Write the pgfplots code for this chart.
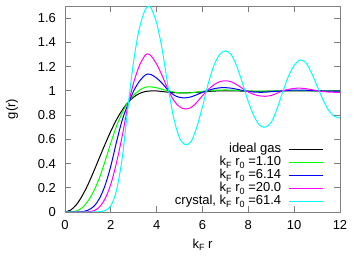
\documentclass[border=0pt]{standalone}
\usepackage{pgfplots}
\pgfplotsset{compat=1.18}
\usepackage{fontspec}
\setmainfont{Liberation Sans}
\newcommand\sub[1]{\raisebox{-0.35ex}{\fontsize{9}{9}\selectfont #1}}
\newcommand\fsz{\fontsize{13}{15}\selectfont}
\definecolor{cgreen}{RGB}{0,255,0}
\definecolor{cblue}{RGB}{0,0,255}
\definecolor{cmag}{RGB}{255,0,255}
\definecolor{ccyan}{RGB}{0,255,255}
\definecolor{frame}{RGB}{128,128,128}
\begin{document}
\begin{tikzpicture}
\begin{axis}[
  scale only axis, width=275pt, height=206pt,
  xmin=0, xmax=12, ymin=0, ymax=1.7,
  xtick={0,2,4,6,8,10,12},
  ytick={0,0.2,0.4,0.6,0.8,1,1.2,1.4,1.6},
  /pgf/number format/assume math mode=true,
  tick label style={font=\fsz},
  xticklabel style={yshift=-5pt},
  yticklabel style={xshift=-5.5pt},
  label style={font=\fsz},
  xlabel={k\sub{F} r},
  ylabel={g(r)},
  xlabel style={at={(axis description cs:0.5,-0.160)}, anchor=center},
  ylabel style={at={(axis description cs:-0.193,0.5)}, anchor=center, rotate=0},
  axis line style={frame, line width=0.9pt},
  every tick/.style={frame, line width=0.8pt},
  major tick length=6pt,
  tick align=inside,
  legend cell align=right,
  legend plot pos=right,
  legend image code/.code={\draw[#1, line width=1.1pt] (0pt,0pt) -- (34pt,0pt);},
  legend style={draw=none, fill=none, font=\fsz, inner sep=0pt,
    at={(axis cs:11.3,0.03)}, anchor=south east,
    nodes={text height=9pt, text depth=3pt, inner sep=0.5pt},
    row sep=0pt, column sep=7pt},
  every axis plot/.append style={line width=1pt, smooth},
]
\addplot[black] coordinates {
(0,0) (0.25,0.016) (0.5,0.061) (0.75,0.133) (1.0,0.225) (1.25,0.333) (1.5,0.447)
(1.75,0.560) (2.0,0.667) (2.25,0.763) (2.5,0.842) (2.75,0.904) (3.0,0.949)
(3.25,0.978) (3.5,0.994) (3.83,1.0) (4.0,0.999) (4.5,0.989) (5.0,0.983)
(5.5,0.985) (6.0,0.991) (6.5,0.998) (7.0,1.0) (7.5,0.999) (8.0,0.997)
(8.5,0.996) (9.0,0.997) (10.0,1.0) (11.0,0.999) (12.0,0.9986)};
\addlegendentry{ideal gas}
\addplot[cgreen] coordinates {
(0,0) (0.25,0.001) (0.5,0.008) (0.75,0.035) (1.0,0.09) (1.25,0.17) (1.5,0.28)
(1.75,0.42) (2.0,0.57) (2.25,0.71) (2.5,0.82) (2.75,0.905) (3.0,0.965)
(3.25,1.005) (3.5,1.03) (3.75,1.033) (4.0,1.025) (4.25,1.012) (4.5,1.0)
(4.75,0.99) (5.0,0.984) (5.25,0.982) (5.5,0.984) (5.75,0.99) (6.0,0.996)
(6.5,1.004) (7.0,1.007) (7.5,1.004) (8.0,0.999) (8.5,0.997) (9.0,0.998)
(10.0,1.002) (11.0,1.0) (12.0,0.999)};
\addlegendentry{k\sub{F} r\sub{0} =1.10}
\addplot[cblue] coordinates {
(0,0) (0.5,0.0) (0.75,0.003) (1.0,0.015) (1.25,0.045) (1.5,0.11) (1.75,0.22)
(2.0,0.38) (2.25,0.58) (2.5,0.76) (2.75,0.89) (3.0,1.0) (3.25,1.08)
(3.5,1.13) (3.6,1.139) (3.75,1.135) (4.0,1.105) (4.25,1.06) (4.5,1.005)
(4.75,0.965) (5.0,0.946) (5.25,0.942) (5.5,0.95) (5.75,0.968) (6.0,0.988)
(6.25,1.004) (6.5,1.017) (6.75,1.025) (7.0,1.026) (7.25,1.022) (7.5,1.013)
(7.75,1.003) (8.0,0.995) (8.25,0.99) (8.5,0.988) (8.75,0.989) (9.0,0.993)
(9.5,1.0) (10.0,1.006) (10.5,1.005) (11.0,1.0) (11.5,0.997) (12.0,0.997)};
\addlegendentry{k\sub{F} r\sub{0} =6.14}
\addplot[cmag] coordinates {
(0,0) (0.75,0.0) (1.0,0.002) (1.25,0.01) (1.5,0.04) (1.75,0.11) (2.0,0.23)
(2.25,0.41) (2.5,0.63) (2.75,0.88) (3.0,1.07) (3.25,1.21) (3.5,1.295)
(3.6,1.305) (3.75,1.29) (4.0,1.22) (4.25,1.12) (4.5,1.01) (4.75,0.92)
(5.0,0.868) (5.25,0.85) (5.5,0.862) (5.75,0.905) (6.0,0.96) (6.25,1.01)
(6.5,1.05) (6.75,1.075) (7.0,1.083) (7.25,1.075) (7.5,1.05) (7.75,1.02)
(8.0,0.99) (8.25,0.97) (8.5,0.958) (8.75,0.955) (9.0,0.962) (9.25,0.98)
(9.5,1.0) (9.75,1.012) (10.0,1.02) (10.25,1.022) (10.5,1.018) (10.75,1.01)
(11.0,1.002) (11.25,0.995) (11.5,0.99) (11.75,0.988) (12.0,0.988)};
\addlegendentry{k\sub{F} r\sub{0} =20.0}
\addplot[ccyan] coordinates {
(0,0) (1.25,0.0) (1.5,0.003) (1.75,0.012) (2.0,0.05) (2.25,0.18) (2.5,0.45)
(2.75,0.87) (3.0,1.25) (3.25,1.52) (3.5,1.67) (3.65,1.695) (3.75,1.685)
(4.0,1.56) (4.25,1.33) (4.5,1.03) (4.75,0.77) (5.0,0.61) (5.25,0.557)
(5.5,0.58) (5.75,0.70) (6.0,0.87) (6.25,1.06) (6.5,1.21) (6.75,1.30)
(7.0,1.33) (7.25,1.30) (7.5,1.20) (7.75,1.06) (8.0,0.91) (8.25,0.79)
(8.5,0.715) (8.75,0.70) (9.0,0.74) (9.25,0.85) (9.5,0.99) (9.75,1.12)
(10.0,1.21) (10.25,1.255) (10.5,1.235) (10.75,1.15) (11.0,1.04) (11.25,0.93)
(11.5,0.84) (11.75,0.79) (12.0,0.775)};
\addlegendentry{crystal, k\sub{F} r\sub{0} =61.4}
\end{axis}
\pgfresetboundingbox
\path (-65pt,-45pt) rectangle (289pt,212pt);
\end{tikzpicture}
\end{document}
